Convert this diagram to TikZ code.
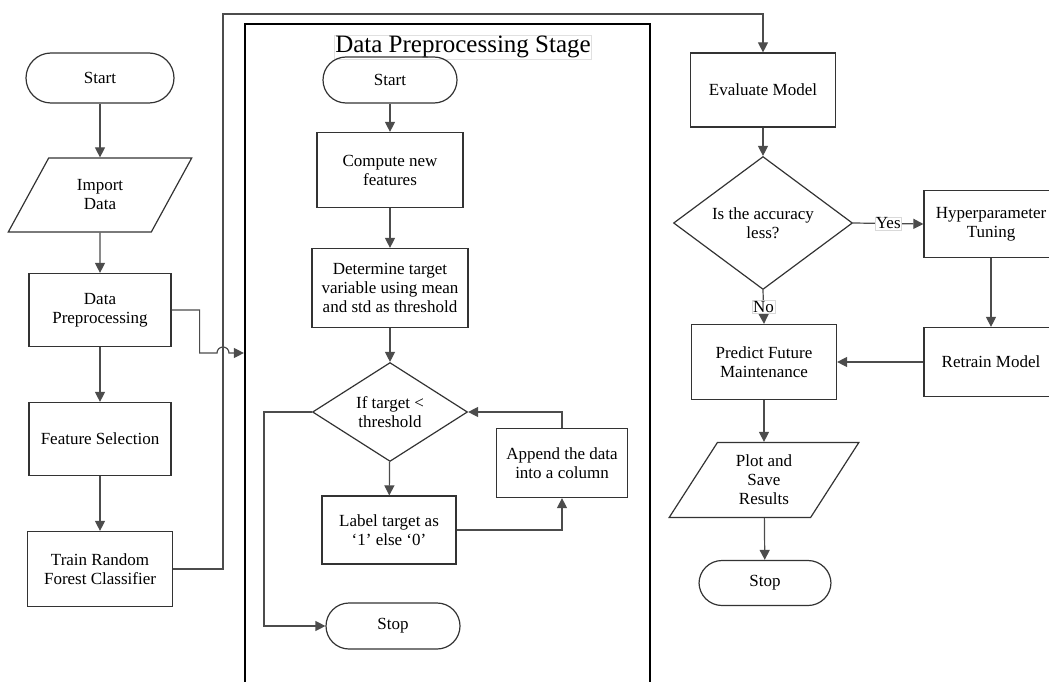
\documentclass[tikz,border=0pt]{standalone}
\usepackage{fontspec}
\setmainfont{Liberation Serif}
\usetikzlibrary{arrows.meta, shapes.geometric}

\begin{document}
\begin{tikzpicture}[x=1pt, y=-1pt, >={Triangle[length=10pt, width=10pt]},
  every node/.style={font=\fontsize{17}{19}\selectfont},
  base/.style={draw=black!80, line width=1.2pt, align=center, inner sep=2pt},
  terminal/.style={base, rounded corners=23pt, minimum width=134pt, minimum height=46pt},
  process/.style={base, rectangle, minimum width=145pt, minimum height=75pt},
  io/.style={base, trapezium, trapezium left angle=60, trapezium right angle=120, trapezium stretches=true, minimum width=186pt, minimum height=75pt},
  decision/.style={base, diamond, inner sep=0pt},
  flow/.style={draw=black!70, line width=1.2pt},
  tag/.style={draw=black!15, fill=white, inner sep=1pt, line width=0.6pt}]
  \useasboundingbox (0,0) rectangle (1049,682);
  \clip (0,0) rectangle (1049,682);

  % main flow, left column
  \node[terminal, minimum width=148pt, minimum height=50pt, rounded corners=25pt] (start1) at (100,78) {Start};
  \node[io, minimum width=184pt, minimum height=74pt] (import) at (100,195) {Import\\Data};
  \node[process, minimum width=142pt, minimum height=73pt] (dpre) at (100,310) {Data\\Preprocessing};
  \node[process, minimum width=142pt, minimum height=73pt] (fsel) at (100,439) {Feature Selection};
  \node[process] (train) at (100,569) {Train Random\\Forest Classifier};

  % data preprocessing stage
  \node[draw, line width=2.2pt, minimum width=405pt, minimum height=680pt, inner sep=0pt] (stage) at (447.5,364) {};
  \node[draw=black!12, line width=0.6pt, inner sep=1pt, font=\fontsize{25}{28}\selectfont] (title) at (463,47) {Data Preprocessing Stage};
  \node[terminal] (start2) at (390,80) {Start};
  \node[process, minimum width=146pt] (compute) at (390,170) {Compute new\\features};
  \node[process, minimum width=156pt, minimum height=79pt] (target) at (390,288) {Determine target\\variable using mean\\and std as threshold};
  \node[decision, minimum width=155pt, minimum height=78pt] (dec1) at (390,412) {If target <\\threshold};
  \node[process, minimum width=134pt, minimum height=68pt] (label) at (389,530) {Label target as\\‘1’ else ‘0’};
  \node[process, minimum width=131pt, minimum height=69pt] (append) at (562,463) {Append the data\\into a column};
  \node[terminal] (stop2) at (393,626) {Stop};

  % right column
  \node[process, minimum height=74pt] (eval) at (763,90) {Evaluate Model};
  \node[decision, minimum width=179pt, minimum height=92pt] (dec2) at (763,223) {Is the accuracy\\less?};
  \node[process, minimum width=134pt, minimum height=67pt] (hyper) at (991,224) {Hyperparameter\\Tuning};
  \node[process, minimum width=134pt, minimum height=69pt] (retrain) at (991,362) {Retrain Model};
  \node[process] (predict) at (764,362) {Predict Future\\Maintenance};
  \node[io, minimum width=190pt] (plot) at (764,480) {Plot and\\Save\\Results};
  \node[terminal, minimum width=132pt, minimum height=45pt] (stop1) at (765,583) {Stop};

  % connectors
  \draw[flow, ->] (start1) -- (import);
  \draw[flow, ->] (import) -- (dpre);
  \draw[flow, ->] (dpre) -- (fsel);
  \draw[flow, ->] (fsel) -- (train);
  \draw[flow, ->] (dpre.east) -- ++(28,0) |- (217,353) arc[start angle=180, end angle=360, radius=6] -- (stage.west |- 0,353);
  \draw[flow, ->] (train.east) -- (223,569) -- (223,14) -| (eval.north);

  \draw[flow, ->] (start2) -- (compute);
  \draw[flow, ->] (compute) -- (target);
  \draw[flow, ->] (target) -- (dec1);
  \draw[flow, ->] (dec1) -- (label);
  \draw[flow, ->] (label.east) -| (append.south);
  \draw[flow, ->] (append.north) |- (dec1.east);
  \draw[flow, ->] (dec1.west) -- (264,412) |- (stop2.west);

  \draw[flow, ->] (eval) -- (dec2);
  \draw[flow, ->] (dec2.east) -- node[tag] {Yes} (hyper.west);
  \draw[flow, ->] (dec2.south) -- node[tag] {No} (predict.north);
  \draw[flow, ->] (hyper) -- (retrain);
  \draw[flow, ->] (retrain) -- (predict);
  \draw[flow, ->] (predict) -- (plot);
  \draw[flow, ->] (plot) -- (stop1);
\end{tikzpicture}
\end{document}
